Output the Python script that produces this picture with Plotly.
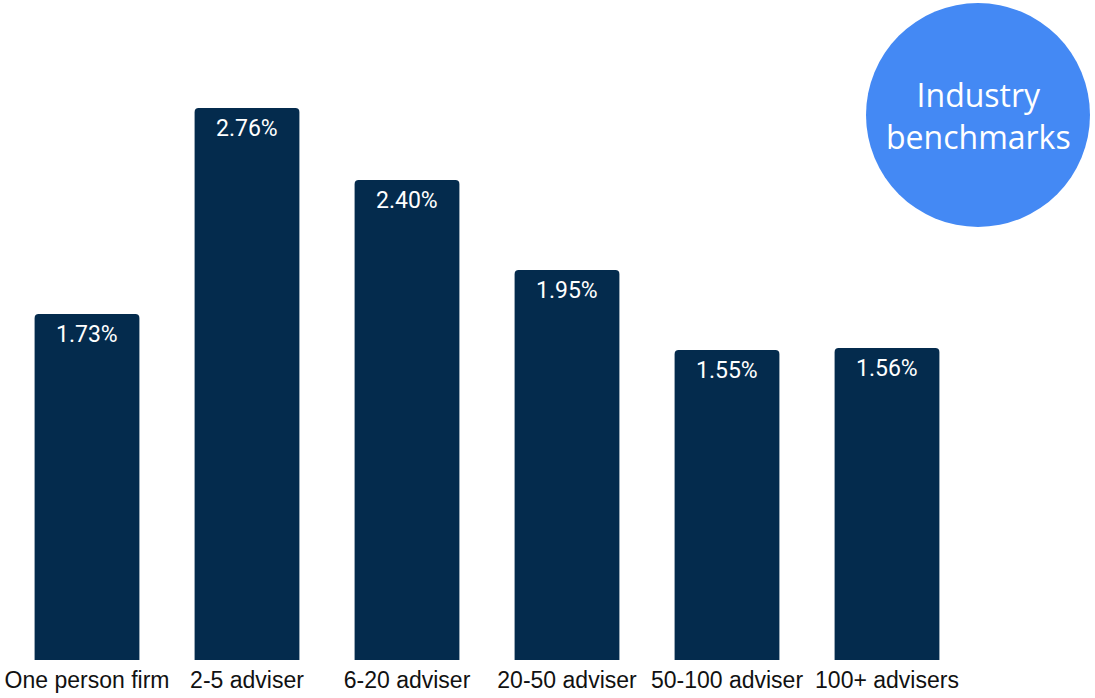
import plotly.graph_objects as go

# Average fee by practice size
categories = ["One person firm", "2-5 adviser", "6-20 adviser", "20-50 adviser", "50-100 adviser", "100+ advisers"]
fee_pct = [1.73, 2.76, 2.40, 1.95, 1.55, 1.56]
value_labels = ["1.73%", "2.76%", "2.40%", "1.95%", "1.55%", "1.56%"]

W, H = 1095, 698
M_L, M_R, M_T, M_B = 7, 128, 20, 38
plot_w = W - M_L - M_R
plot_h = H - M_T - M_B


def px_x(x):
    return (x - M_L) / plot_w


def px_y(y):
    return (H - M_B - y) / plot_h


fig = go.Figure()
fig.add_trace(go.Bar(
    x=categories,
    y=fee_pct,
    marker=dict(color="#042B4D", line=dict(width=0)),
    width=0.655,
    hoverinfo="skip",
))

# value labels just inside the top of each bar
for cat, val, lab in zip(categories, fee_pct, value_labels):
    fig.add_annotation(
        x=cat, y=val, text=lab, showarrow=False,
        yanchor="top", yshift=-5,
        font=dict(family="Roboto, Arial, sans-serif", size=23, color="white"),
    )

# badge in the top-right corner
fig.add_shape(
    type="circle", xref="paper", yref="paper",
    x0=px_x(866), x1=px_x(1090), y0=px_y(227), y1=px_y(3),
    fillcolor="#4489F4", line=dict(width=0), layer="above",
)
fig.add_annotation(
    xref="paper", yref="paper", x=px_x(978), y=px_y(115),
    text="Industry<br>benchmarks", showarrow=False,
    xanchor="center", yanchor="middle", align="center",
    font=dict(family="'Open Sans', Lato, sans-serif", size=32, color="white"),
)

fig.update_layout(
    width=W, height=H,
    margin=dict(l=M_L, r=M_R, t=M_T, b=M_B, pad=0),
    paper_bgcolor="white", plot_bgcolor="white",
    showlegend=False,
    barcornerradius=4,
    xaxis=dict(
        range=[-0.5, 5.5], showgrid=False, zeroline=False, showline=False,
        ticks="", ticklabelstandoff=4, automargin=False,
        tickfont=dict(family="Liberation Sans, Arial, sans-serif", size=23, color="#111111"),
    ),
    yaxis=dict(range=[0, 3.2], visible=False, showgrid=False, zeroline=False),
)

fig.write_html("out.html")
